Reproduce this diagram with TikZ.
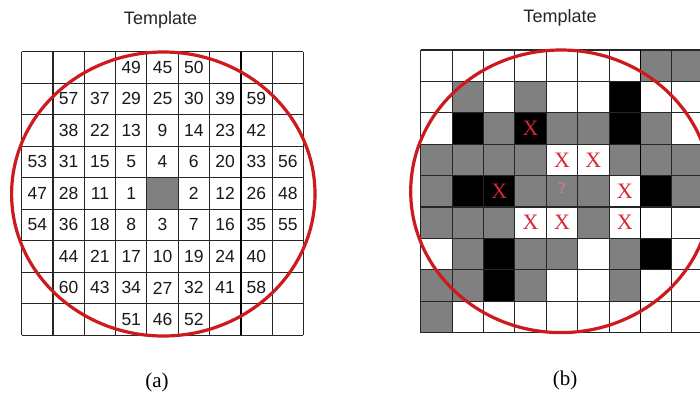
\documentclass[tikz,border=0pt]{standalone}
\usepackage{fontspec}
\setmainfont{Liberation Serif}
\setsansfont{Liberation Sans}
\usepackage{tikz}
\usepackage{xcolor}

\definecolor{ringred}{RGB}{204,26,30}
\definecolor{markred}{RGB}{212,40,52}
\definecolor{markpink}{RGB}{238,120,160}
\definecolor{cellw}{RGB}{255,255,255}
\definecolor{cellg}{RGB}{128,128,128}
\definecolor{cellb}{RGB}{0,0,0}

\tikzset{
  gridline/.style={line width=1.1pt,black!85},
  divline/.style={line width=1.9pt,black},
  ring/.style={line width=3.2pt,ringred},
  numtxt/.style={font=\sffamily\fontsize{17.5}{17.5}\selectfont,text=black!90,inner sep=0pt},
  titletxt/.style={font=\sffamily\fontsize{18}{18}\selectfont,text=black!85},
  captxt/.style={font=\fontsize{21}{21}\selectfont},
  xmark/.style={font=\fontsize{22}{22}\selectfont,text=markred,inner sep=0pt},
  qmark/.style={font=\fontsize{16}{16}\selectfont,text=markpink,inner sep=0pt}
}

\begin{document}
\begin{tikzpicture}[x=1pt,y=-1pt]
  \useasboundingbox (0,0) rectangle (700,396);
  \fill[white] (0,0) rectangle (700,396);

  \node[titletxt] (ttl-a) at (160.5,20) {Template};
  \node[titletxt] (ttl-b) at (560,18) {Template};

  \begin{scope}[shift={(21.7,51.7)},x=31.3pt,y=-31.5pt]
    \fill[cellg] (4,4) rectangle (5,5);
    \foreach \i in {0,...,9} {
      \draw[gridline] (\i,0) -- (\i,9);
      \draw[gridline] (0,\i) -- (9,\i);
    }
    \draw[divline] (7,0) -- (7,9);
    \foreach \row [count=\r] in {
      {,,,49,45,50,,,},
      {,57,37,29,25,30,39,59,},
      {,38,22,13,9,14,23,42,},
      {53,31,15,5,4,6,20,33,56},
      {47,28,11,1,,2,12,26,48},
      {54,36,18,8,3,7,16,35,55},
      {,44,21,17,10,19,24,40,},
      {,60,43,34,27,32,41,58,},
      {,,,51,46,52,,,}}
      \foreach \v [count=\c] in \row
        \node[numtxt] (a-\r-\c) at (\c-0.5,\r-0.5) {\v};
  \end{scope}
  \draw[ring] (163.3,194) ellipse [x radius=151.7, y radius=142];
  \node[captxt] (cap-a) at (157,382) {(a)};

  \begin{scope}
    \clip (380,0) rectangle (700,396);
    \begin{scope}[shift={(420.7,50)},x=31.4pt,y=-31.4pt]
      \foreach \row [count=\r] in {
        {w,w,w,w,w,w,w,g,g},
        {w,g,w,g,w,w,b,w,w},
        {w,b,g,b,g,g,b,g,w},
        {g,g,g,g,w,w,g,g,g},
        {g,b,b,g,g,g,w,b,g},
        {g,g,g,w,w,g,w,w,w},
        {w,g,b,g,g,w,g,b,w},
        {g,g,b,g,w,w,g,w,w},
        {g,w,w,w,w,w,w,w,w}}
        \foreach \v [count=\c] in \row
          \fill[cell\v] (\c-1,\r-1) rectangle (\c,\r);
      \foreach \i in {0,...,9} {
        \draw[gridline] (\i,0) -- (\i,9);
        \draw[gridline] (0,\i) -- (9,\i);
      }
      \draw[divline] (7,0) -- (7,9);
      \foreach \r/\c in {3/4,4/5,4/6,5/3,5/7,6/4,6/5,6/7}
        \node[xmark] (x-\r-\c) at (\c-0.5,\r-0.5) {X};
      \node[qmark] (q-5-5) at (4.5,4.4) {?};
    \end{scope}
    \draw[ring] (561,191.3) ellipse [x radius=150.3, y radius=141.3];
  \end{scope}
  \node[captxt] (cap-b) at (565,380) {(b)};
\end{tikzpicture}
\end{document}
